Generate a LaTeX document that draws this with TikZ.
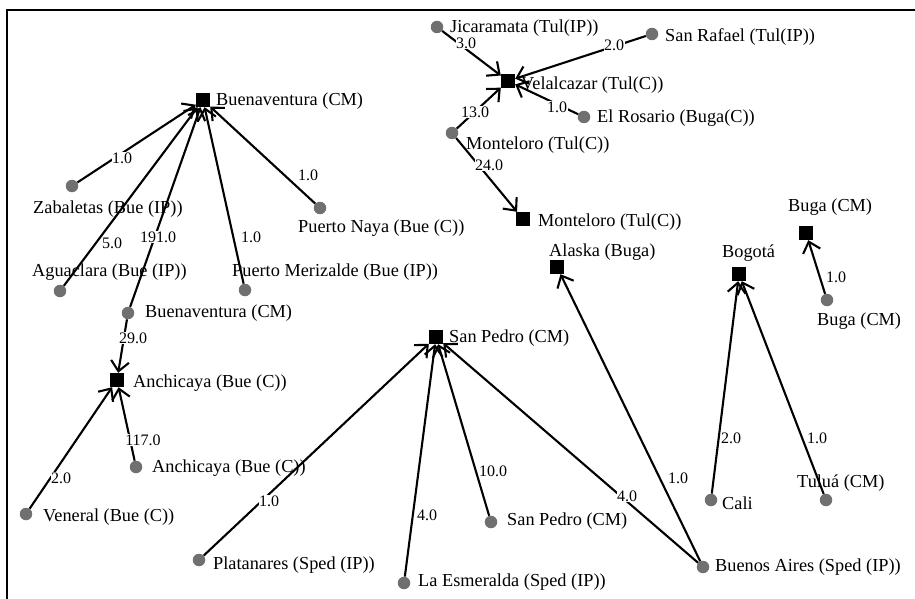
\documentclass[tikz,border=0pt]{standalone}
\usepackage{fontspec}
\setmainfont{Liberation Serif}
\usetikzlibrary{arrows.meta}
\definecolor{nodegray}{RGB}{112,112,112}
\tikzset{
  sq/.style={rectangle, fill=black, minimum size=14pt, inner sep=0pt},
  dot/.style={circle, fill=nodegray, minimum size=12.5pt, inner sep=0pt},
  nlab/.style={anchor=west, inner sep=0pt, font=\fontsize{18.3}{20}\selectfont},
  elab/.style={fill=white, inner sep=0.5pt, font=\fontsize{16}{18}\selectfont},
  edge/.style={line width=2.1pt, -{Straight Barb[length=10pt,width=18pt,line width=2.1pt]}},
}
\begin{document}
\begin{tikzpicture}[x=1pt,y=-1pt]
\useasboundingbox (0,0) rectangle (915,599);
\draw[line width=2.4pt] (915,10) -- (7,10) -- (7,599);

% squares (targets)
\node[sq] (sBue) at (203,100) {};
\node[sq] (sVel) at (508,81) {};
\node[sq] (sMon) at (523,219) {};
\node[sq] (sAnc) at (117,380) {};
\node[sq] (sSP)  at (436,337) {};
\node[sq] (sAla) at (557,267) {};
\node[sq] (sBog) at (739,274) {};
\node[sq] (sBug) at (806,233) {};

% circles (sources)
\node[dot] (cJic) at (437,27) {};
\node[dot] (cSRa) at (652,34) {};
\node[dot] (cERo) at (584,117) {};
\node[dot] (cMon) at (452,133) {};
\node[dot] (cZab) at (72,186) {};
\node[dot] (cNay) at (320,208) {};
\node[dot] (cAgu) at (60,291) {};
\node[dot] (cMer) at (245,290) {};
\node[dot] (cBue) at (128,313) {};
\node[dot] (cAnc) at (136,467) {};
\node[dot] (cVen) at (26,514) {};
\node[dot] (cPla) at (199,560) {};
\node[dot] (cEsm) at (404,583) {};
\node[dot] (cSPe) at (491,522) {};
\node[dot] (cBAi) at (703,567) {};
\node[dot] (cCal) at (711,500) {};
\node[dot] (cTul) at (826,500) {};
\node[dot] (cBug) at (827,300) {};

% node labels
\node[nlab] (tsBue) at (216,101) {Buenaventura (CM)};
\node[nlab] (tsVel) at (521,85) {Velalcazar (Tul(C))};
\node[nlab] (tsMon) at (538,222) {Monteloro (Tul(C))};
\node[nlab] (tsAnc) at (133,383) {Anchicaya (Bue (C))};
\node[nlab] (tsSP)  at (449,338) {San Pedro (CM)};
\node[nlab] (tsAla) at (549,252) {Alaska (Buga)};
\node[nlab] (tsBog) at (722,253) {Bogotá};
\node[nlab] (tsBug) at (788,207) {Buga (CM)};
\node[nlab] (tcJic) at (450,28) {Jicaramata (Tul(IP))};
\node[nlab] (tcSRa) at (665,37) {San Rafael (Tul(IP))};
\node[nlab] (tcERo) at (597,118) {El Rosario (Buga(C))};
\node[nlab] (tcMon) at (466,145) {Monteloro (Tul(C))};
\node[nlab] (tcZab) at (33,209) {Zabaletas (Bue (IP))};
\node[nlab] (tcNay) at (298,228) {Puerto Naya (Bue (C))};
\node[nlab] (tcAgu) at (32,272) {Aguaclara (Bue (IP))};
\node[nlab] (tcMer) at (232,272) {Puerto Merizalde (Bue (IP))};
\node[nlab] (tcBue) at (145,313) {Buenaventura (CM)};
\node[nlab] (tcAnc) at (152,468) {Anchicaya (Bue (C))};
\node[nlab] (tcVen) at (43,517) {Veneral (Bue (C))};
\node[nlab] (tcPla) at (213,565) {Platanares (Sped (IP))};
\node[nlab] (tcEsm) at (418,582) {La Esmeralda (Sped (IP))};
\node[nlab] (tcSPe) at (507,521) {San Pedro (CM)};
\node[nlab] (tcBAi) at (715,567) {Buenos Aires (Sped (IP))};
\node[nlab] (tcCal) at (722,503) {Cali};
\node[nlab] (tcTul) at (797,483) {Tuluá (CM)};
\node[nlab] (tcBug) at (817,321) {Buga (CM)};

% edges
\draw[edge] (cZab) -- (sBue);
\draw[edge] (cAgu) -- (sBue);
\draw[edge] (cBue) -- (sBue);
\draw[edge] (cMer) -- (sBue);
\draw[edge] (cNay) -- (sBue);
\draw[edge] (cBue) -- (sAnc);
\draw[edge] (cAnc) -- (sAnc);
\draw[edge] (cVen) -- (sAnc);
\draw[edge] (cPla) -- (sSP);
\draw[edge] (cEsm) -- (sSP);
\draw[edge] (cSPe) -- (sSP);
\draw[edge] (cBAi) -- (sSP);
\draw[edge] (cBAi) -- (sAla);
\draw[edge] (cCal) -- (sBog);
\draw[edge] (cTul) -- (sBog);
\draw[edge] (cBug) -- (sBug);
\draw[edge] (cJic) -- (sVel);
\draw[edge] (cSRa) -- (sVel);
\draw[edge] (cERo) -- (sVel);
\draw[edge] (cMon) -- (sVel);
\draw[edge] (cMon) -- (sMon);

% edge labels
\node[elab] (e1)  at (122,158) {1.0};
\node[elab] (e2)  at (112,243) {5.0};
\node[elab] (e3)  at (158,237) {191.0};
\node[elab] (e4)  at (251,237) {1.0};
\node[elab] (e5)  at (308,175) {1.0};
\node[elab] (e6)  at (133,338) {29.0};
\node[elab] (e7)  at (143,440) {117.0};
\node[elab] (e8)  at (61,478) {2.0};
\node[elab] (e9)  at (269,501) {1.0};
\node[elab] (e10) at (427,515) {4.0};
\node[elab] (e11) at (493,471) {10.0};
\node[elab] (e12) at (627,496) {4.0};
\node[elab] (e13) at (678,478) {1.0};
\node[elab] (e14) at (731,438) {2.0};
\node[elab] (e15) at (817,438) {1.0};
\node[elab] (e16) at (836,277) {1.0};
\node[elab] (e17) at (466,43) {3.0};
\node[elab] (e18) at (614,45) {2.0};
\node[elab] (e19) at (557,107) {1.0};
\node[elab] (e20) at (475,112) {13.0};
\node[elab] (e21) at (489,165) {24.0};
\end{tikzpicture}
\end{document}
